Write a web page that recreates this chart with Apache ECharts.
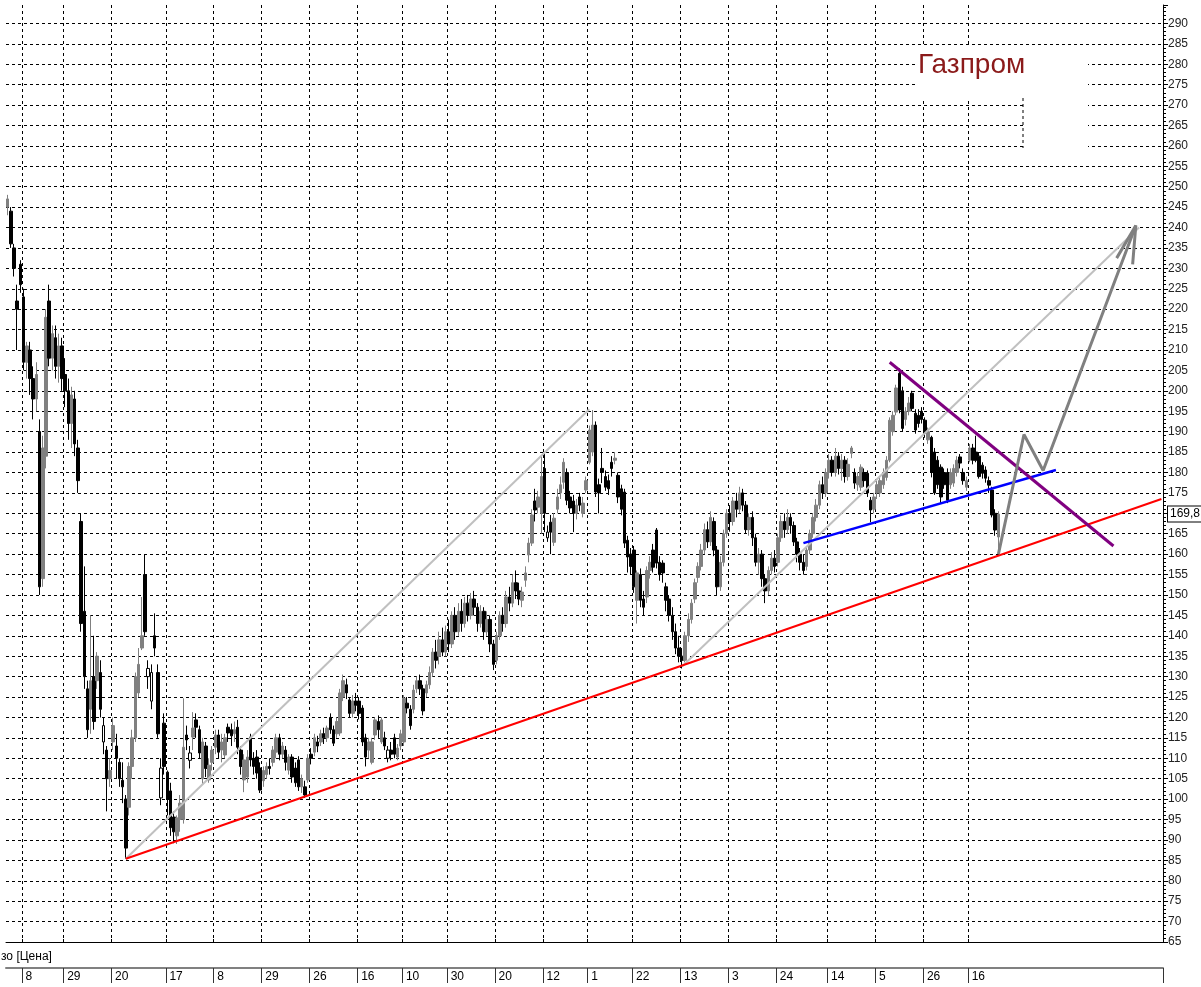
<!DOCTYPE html>
<html>
<head>
<meta charset="utf-8">
<title>Газпром</title>
<script src="https://cdn.jsdelivr.net/npm/echarts@6/dist/echarts.min.js"></script>
<style>
  html, body { margin: 0; padding: 0; background: #fff; }
  #chart { width: 1201px; height: 987px; }
</style>
</head>
<body>
<div id="chart"></div>
<script>
// daily candles, [open, close, low, high]
const candles = [
  [245, 247, 243, 248], [244, 236, 235, 245], [235, 230, 228, 236], [222, 220, 210, 226], [231, 226, 224, 232],
  [223, 207, 205, 225], [207, 211, 203, 212], [210, 203, 199, 212], [203, 198, 193, 206], [198, 204, 195, 207],
  [190, 152, 150, 193], [154, 186, 152, 189], [184, 218, 181, 220], [222, 208, 206, 226], [208, 214, 205, 216],
  [213, 206, 203, 216], [206, 211, 202, 214], [211, 203, 200, 213],
  [204, 200, 196, 208], [200, 192, 188, 203], [192, 199, 186, 201], [198, 187, 184, 200], [186, 178, 175, 188],
  [168, 143, 141, 170], [146, 130, 127, 157], [127, 117, 115, 129], [122, 129, 116, 145], [130, 119, 117, 140],
  [129, 135, 127, 136], [131, 122, 120, 134], [114, 118, 111, 120], [112, 105, 97, 113], [105, 107, 103, 110],
  [114, 118, 112, 120], [113, 110, 105, 116], [109, 105, 103, 110], [104.6, 103, 99, 109], [100, 88, 85.4, 101],
  [98, 108, 96, 109], [108, 115, 105, 117], [115, 130, 114, 131], [126, 133, 125, 137], [137, 140, 136.5, 149.5],
  [155, 141, 140, 160], [130, 132, 127, 134], [124, 131, 122, 133], [140, 137, 135, 145.5], [131, 116, 115, 133],
  [100.3, 107.6, 98.5, 110], [118.6, 108, 106, 121],
  [106.6, 100, 96, 107], [102, 93, 91, 104], [95.6, 92, 89.2, 97], [91, 95.4, 89, 96], [95, 99, 92, 101],
  [95, 112.7, 94, 124.7], [115.7, 114.5, 112, 118], [109.5, 111.3, 107.5, 113], [115.2, 117.4, 112, 121.3], [119.4, 117.6, 115, 121],
  [117, 111.3, 110, 118], [105, 114, 103.5, 115], [113, 107.5, 105.4, 114], [104.7, 108.3, 104, 110], [109, 112, 107, 113],
  [112.7, 115.7, 111, 117], [115.7, 111.5, 110, 117], [112, 114, 109, 116], [110.8, 115, 110, 116], [117.6, 116.2, 114, 118.5],
  [117, 115.5, 113, 118.5], [116, 117, 114, 119], [117.6, 112.7, 111, 119.4], [112, 108, 106, 113], [104.7, 109.6, 101.7, 111],
  [105.4, 110.3, 104, 112], [115.2, 109.6, 108, 116], [110, 108, 106, 111.5], [110.3, 106.4, 105, 112], [107.6, 102.2, 101.5, 109],
  [104.5, 107, 103, 108], [106, 108, 105, 109], [108, 107.5, 106, 110], [109, 112, 108, 113], [111.5, 115, 110, 116],
  [115, 111, 109.5, 116], [111, 113, 110, 114], [112, 109, 107, 113], [107.1, 110.3, 106, 111], [110.3, 105.4, 104, 111],
  [107.6, 104, 103, 109], [109.6, 103, 102, 110.5], [103, 105, 101.5, 106], [103, 101, 100.3, 104.5], [104.7, 110, 104, 111],
  [111, 110, 108.5, 112.5], [111.5, 115, 110.5, 116], [114, 113, 111.5, 115.5], [114, 116, 113, 117], [116, 115, 113.5, 117.5],
  [115, 117.4, 114, 118], [120, 117, 116, 121], [117, 113.7, 113, 118], [116, 119, 115, 120], [116.2, 126, 115.5, 127],
  [125, 129, 124, 130.5], [128, 126, 124.5, 129.5], [124.3, 121, 120, 125], [121, 124, 120, 125.5], [124, 123, 121.5, 126],
  [124, 121, 119.5, 125], [122.3, 114, 113, 123], [115, 110.3, 108, 116], [112, 114, 110, 115], [109, 114, 108.5, 115],
  [115.7, 119.4, 114.5, 120], [119, 117, 115, 120.5], [114, 119.4, 113.5, 120], [115, 113, 112, 116.5], [110, 112, 109, 113],
  [112, 111, 109.5, 114], [115, 111, 110, 116], [110.3, 112.5, 109.5, 113.5], [113, 116, 112, 117],
  [114, 124.7, 113, 125.5], [123.5, 122.3, 121, 125], [122, 118, 117, 123], [122, 126.7, 121, 128], [127, 129, 126, 130],
  [129, 127, 125.5, 130.5], [127, 121.6, 120.5, 128], [126, 128, 125, 129], [128, 131, 127, 132.5], [131, 136, 130, 137],
  [136, 134, 132, 139], [135, 139, 133, 141], [139, 136, 135, 142], [136, 141, 135, 142.5],
  [141, 138, 136, 144], [138, 145, 137, 146], [145, 141, 139, 147], [141, 146, 140, 148], [146, 143, 141, 149],
  [143, 148, 142, 149.5], [148, 145, 143.5, 150], [145, 149, 144, 150.5], [149, 147, 145, 151], [147, 143, 141, 148],
  [143, 146, 142, 147.5], [146, 141, 139, 147], [141, 144, 140, 146], [144, 138, 136, 145], [138, 133, 131.6, 139],
  [134, 140, 133, 141], [140, 145, 139, 146], [145, 143, 141, 147], [143, 149.5, 142, 151], [149.5, 148, 146, 152],
  [148, 153, 147, 155], [153, 151, 149, 156], [151, 149, 147.5, 153], [148.7, 150.7, 147, 152], [153.6, 155.4, 152, 157],
  [159.8, 162.7, 158, 164], [162.7, 169.6, 162, 171], [173, 170.8, 168, 176], [171.5, 174, 170, 175.5], [170, 179, 165, 184],
  [181, 170, 165.4, 184.7], [164, 165.4, 163, 167], [167.8, 165.4, 160, 169.6], [162.9, 168.8, 162, 170], [171, 174, 170, 176],
  [175, 177, 173.5, 179], [177.6, 182.5, 176, 183.5], [180, 173.2, 172, 181], [174, 171.3, 170, 175.5], [173, 170, 165.4, 174.5],
  [170, 172, 168.5, 173.5], [174, 172, 170.5, 175], [170, 172.5, 169, 174], [175.7, 178, 175, 179],
  [182.5, 190.4, 182, 191.5], [185, 191.6, 184, 195.3], [191.6, 175.2, 174, 192.5], [177, 175, 170, 178.5], [181, 180, 177.4, 186],
  [179, 176.4, 175.5, 180.5], [178, 176, 174.5, 179.5], [182.5, 181, 179, 184], [183, 183.5, 182, 185], [179.3, 174, 172.5, 180],
  [176, 171, 169.5, 177], [175.2, 162.7, 161.5, 176], [163.4, 159.3, 155.5, 164.5], [160, 157, 155, 161.5],
  [161, 152, 150.5, 162], [148.7, 155.4, 143, 156], [155, 148.7, 147, 156.5], [149, 147, 145, 151], [149.5, 156, 148, 157],
  [156, 158, 154, 159.5], [161, 156.8, 155.5, 162.5], [165.9, 157.8, 156.5, 166.4], [158, 155, 153.5, 159.5], [157.8, 155.4, 153, 158.5],
  [152, 148.7, 146, 153], [149, 145, 143.5, 150], [145, 141, 139, 147], [141, 137, 135.5, 143], [137, 135, 133.5, 140],
  [135, 134, 132, 137], [134, 140, 133.5, 141], [140, 144, 138.5, 145.5], [144, 148, 143, 149], [149, 153, 148, 154],
  [154.3, 157, 153, 158], [157, 161, 156, 162.5], [161, 166, 160, 167.5], [166, 163, 161.5, 168], [163, 169, 162, 170.5],
  [168, 161, 159.5, 169], [161, 152, 150, 162], [152, 158, 151, 159.5], [158, 165, 157, 166], [165, 170, 164, 171],
  [170, 168, 165.5, 172], [168, 173, 167, 174], [173, 171, 169, 175], [171, 175, 170, 176.5], [175, 172, 170.5, 176],
  [172, 166, 165, 173], [166, 169, 164.5, 170], [169, 164, 162, 170.5], [164, 158, 157, 165], [158, 160, 155, 161.5],
  [160, 154, 152, 161], [154, 151, 148, 155], [151, 156, 150, 157], [156, 159, 155, 160.5], [159, 157, 155.5, 161],
  [158, 164, 157, 165], [164, 168, 163, 169.5], [168, 166, 164, 170], [166, 169, 165, 171], [169, 167, 165, 170],
  [167, 163, 162, 168], [163, 160, 158, 164], [160, 158, 156, 161.5], [158, 156, 155, 160], [157, 161, 156, 162],
  [161, 165, 160, 166], [165, 169, 164, 170], [169, 172, 168, 173.5], [172, 177, 171, 178], [177, 175, 173.5, 179],
  [175, 180, 174, 181],
  [180, 183, 178.5, 184.5], [183, 180, 179, 184], [180, 184, 179, 186], [184, 181, 179.5, 185], [181, 183, 178, 184.5],
  [183, 179, 177.5, 184], [179, 182, 178, 183.5], [184.7, 186, 183.5, 186.5], [180, 177.4, 176, 181], [177, 179, 175.5, 180],
  [176.4, 181.3, 175.5, 182], [180, 178, 176.5, 181], [179.8, 175, 174, 180.5], [173.2, 170.8, 167.8, 174], [171, 174, 170, 175],
  [175, 177, 173.5, 178], [175, 178, 174, 179], [177, 180, 176, 181], [178.8, 183, 178, 184], [183, 192.8, 182.5, 193.5],
  [190, 194, 189, 195], [194.8, 200.7, 194, 201.5], [204.3, 195.3, 194.5, 205.5], [200, 190.8, 190, 201], [193, 195, 191.5, 196],
  [195, 197, 194, 198.5], [199.4, 195.7, 195, 200], [194.5, 190.4, 189.5, 195.5], [194, 192, 191, 195.5], [195, 193, 192, 196],
  [192.8, 189.6, 188.5, 193.5], [188, 190, 187, 191], [188.6, 180, 178.8, 189], [185, 175, 174.5, 186], [183, 177, 176, 184],
  [181.3, 174, 172.5, 182], [180, 177, 176, 181], [180, 173.2, 172.5, 181], [177, 180, 176, 181], [177.4, 181, 176.5, 182],
  [180, 183, 179, 184], [183.8, 182.3, 181, 184.5], [180, 178, 177, 181], [176.4, 178, 175.5, 179],
  [183, 186, 182.5, 187], [186, 183, 182, 187], [185, 183, 182.5, 189], [184, 179, 178.5, 185], [181.8, 179.8, 178.5, 182.5],
  [180.6, 178.6, 177.5, 181.5], [178, 176.9, 175, 179], [175.7, 169.6, 169, 176.5], [170, 165.9, 164.5, 171], [164.2, 169.8, 160, 170.5]
];

// date labels under the chart and the slot they sit on
const tickPos = [5, 18, 33, 50, 65, 80, 95, 110, 124, 138, 153, 168, 182, 196, 211, 226, 241, 257, 272, 287, 301];
const tickText = ['8', '29', '20', '17', '8', '29', '26', '16', '10', '30', '20', '12', '1', '22', '13', '3', '24', '14', '5', '26', '16'];
const slotCount = 362;  // trading days incl. the empty space on the right

// hand-drawn lines, [slot, price]
const supportLine = [[37, 85.4], [361, 173.5]];
const channelLow = [[37, 85.4], [182, 195.5]];
const channelHigh = [[211, 132.5], [354, 240]];
const wedgeTop = [[276, 207], [346, 162]];
const wedgeBottom = [[249, 162.7], [328, 180.6]];
const forecast = [[310, 160], [318, 189.3], [324, 180.5], [353, 240.5]];
const arrowHead = [[347, 232.5], [353, 240.5], [352, 231]];

const slots = [];
for (let i = 0; i < slotCount; i++) slots.push(String(i));
const tickMap = {};
tickPos.forEach((p, k) => { tickMap[p] = tickText[k]; });
const isTick = (i) => tickMap[i] !== undefined;

const blackStyle = { color: '#000', color0: '#000', borderColor: '#000', borderColor0: '#000' };
const whiteStyle = { color: '#fff', color0: '#fff', borderColor: '#000', borderColor0: '#000' };
const grayStyle = { color: '#808080', color0: '#808080', borderColor: '#808080', borderColor0: '#808080' };

const candleItems = candles.map((c, i) => {
  const prev = i ? candles[i - 1][1] : c[0];
  let st;
  if (c[1] < c[0]) st = blackStyle;
  else if (c[1] >= prev) st = grayStyle;
  else st = whiteStyle;
  return { value: c, itemStyle: st };
});
const lastClose = candles[candles.length - 1][1];

function drawnLine(data, color, width) {
  return {
    type: 'line', data: data, symbol: 'none', silent: true, z: 5,
    lineStyle: { color: color, width: width }
  };
}

const chart = echarts.init(document.getElementById('chart'));
chart.setOption({
  animation: false,
  backgroundColor: '#fff',
  textStyle: { fontFamily: 'Arial, "Liberation Sans", sans-serif' },
  grid: { left: 6, right: 38, top: 5, bottom: 45 },
  xAxis: [{
    type: 'category', data: slots, boundaryGap: true,
    axisLine: { lineStyle: { color: '#000', width: 1 } },
    axisTick: { show: true, interval: isTick, length: 3, inside: true, lineStyle: { color: '#000' } },
    axisLabel: { show: false },
    splitLine: { show: true, interval: isTick, lineStyle: { color: '#000', type: [3, 3], width: 1 } }
  }, {
    type: 'category', data: slots, boundaryGap: true, position: 'bottom', offset: 26,
    axisLine: { lineStyle: { color: '#808080', width: 2 } },
    axisTick: { show: true, interval: isTick, length: 15, lineStyle: { color: '#333' } },
    axisLabel: {
      interval: isTick, formatter: (v, i) => tickMap[i] || '',
      align: 'left', margin: 3, padding: [0, 0, 0, 2], fontSize: 12, color: '#000'
    },
    splitLine: { show: false }
  }],
  yAxis: {
    type: 'value', position: 'right', min: 65, max: 294.5, interval: 5,
    axisLine: { show: true, lineStyle: { color: '#000' } },
    axisTick: { show: true, length: 5, lineStyle: { color: '#000' } },
    minorTick: { show: true, splitNumber: 5, length: 3, lineStyle: { color: '#000' } },
    axisLabel: {
      margin: 5, fontSize: 12, color: '#222', showMaxLabel: false,
      formatter: (v) => (v % 5 === 0 ? String(v) : '')
    },
    splitLine: { show: true, showMaxLine: false, lineStyle: { color: '#000', type: [3, 3], width: 1 } }
  },
  series: [{
    type: 'candlestick', data: candleItems, barWidth: 3, silent: true, z: 3,
    itemStyle: { borderWidth: 1 },
    markLine: {
      symbol: 'none', silent: true,
      lineStyle: { color: 'transparent' },
      label: {
        position: 'end', distance: 5,
        formatter: (p) => String(p.value).replace('.', ','),
        backgroundColor: '#fff', borderColor: '#000', borderWidth: 1,
        padding: [2, 2, 1, 2], color: '#000', fontSize: 12
      },
      data: [{ yAxis: lastClose }]
    }
  },
    drawnLine(channelLow, '#c0c0c0', 2),
    drawnLine(channelHigh, '#c0c0c0', 2),
    drawnLine(supportLine, '#ff0000', 2),
    drawnLine(wedgeBottom, '#0000ff', 2.5),
    drawnLine(wedgeTop, '#800080', 3),
    drawnLine(forecast, '#808080', 3),
    drawnLine(arrowHead, '#808080', 3)
  ],
  graphic: [
    { type: 'rect', z: 1, shape: { x: 915, y: 46, width: 173, height: 52 }, style: { fill: '#fff' } },
    { type: 'rect', z: 1, shape: { x: 1023, y: 98, width: 65, height: 58 }, style: { fill: '#fff' } },
    { type: 'line', z: 1, shape: { x1: 1023, y1: 98, x2: 1023, y2: 148 }, style: { stroke: '#000', lineDash: [3, 3] } },
    { type: 'text', z: 10, left: 918, top: 51, style: { text: 'Газпром', fill: '#8b1a1a', font: '28px Arial, "Liberation Sans", sans-serif' } },
    { type: 'text', z: 10, left: 1, top: 951, style: { text: 'зо [Цена]', fill: '#000', font: '12px Arial, "Liberation Sans", sans-serif' } }
  ]
});
</script>
</body>
</html>
